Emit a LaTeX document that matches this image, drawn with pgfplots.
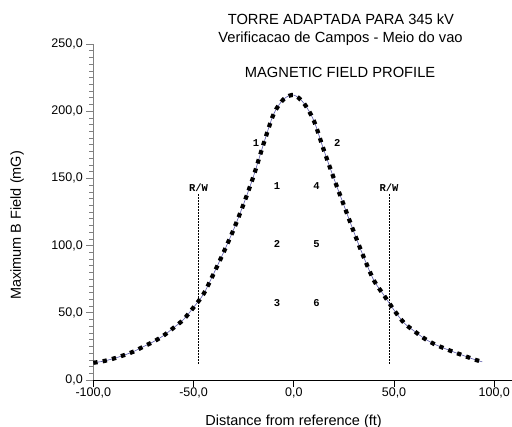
\documentclass[border=0pt]{standalone}
\usepackage{pgfplots}
\pgfplotsset{compat=1.18}
\usepackage{fontspec}
\setmainfont{Liberation Sans}
\newfontfamily\pixfont{Liberation Mono}
\definecolor{curveblue}{RGB}{90,90,170}
\begin{document}
\begin{tikzpicture}
\useasboundingbox (0pt,0pt) rectangle (512pt,427pt);
\begin{axis}[
  at={(93.3pt,47pt)}, anchor=south west,
  scale only axis,
  width=419pt, height=336pt,
  xmin=-100, xmax=109,
  ymin=0, ymax=250,
  clip=false,
  axis lines*=left,
  x axis line style={black, line width=0.8pt},
  y axis line style={gray, line width=0.8pt},
  xtick={-100,-50,0,50,100},
  ytick={0,50,...,250},
  minor y tick num=9,
  tick align=outside,
  major tick length=7pt,
  minor tick length=4pt,
  x tick style={black, line width=0.6pt},
  y tick style={gray, line width=0.6pt},
  ticklabel style={font=\fontsize{12.5}{14}\selectfont},
  xticklabel style={yshift=3pt},
  /pgf/number format/.cd, fixed, fixed zerofill, precision=1, use comma,
    assume math mode=true,
  /pgfplots/.cd,
  xlabel={Distance from reference (ft)},
  ylabel={Maximum B Field (mG)},
  label style={font=\fontsize{14.5}{17}\selectfont},
  xlabel style={at={(axis description cs:0.478,-0.124)}, anchor=center},
  ylabel style={at={(axis description cs:-0.182,0.46)}, anchor=center},
]
% R/W lines
\addplot[black, line width=0.8pt, dash pattern=on 2pt off 1pt] coordinates {(-47.5,12) (-47.5,139)};
\addplot[black, line width=0.8pt, dash pattern=on 2pt off 1pt] coordinates {(47.5,12) (47.5,139)};
% field profile
\addplot[curveblue, line width=0.6pt, smooth] table {
x y
-100 12.8
-95 14
-90 15.9
-85 18.3
-80 21.1
-75 24.8
-70 28.5
-65 33
-60 38.8
-55 45
-50 54
-45 64
-40 79
-35 95
-30 112
-25 131
-20 152
-15 176
-10 198
-5 209
0 212
5 206
10 193
15 171
20 150
25 130
30 110
35 91
40 74
45 63
50 52
55 42.5
60 36.5
65 31
70 26.8
75 23.6
80 20.7
85 18
90 15.3
94 13.5
};
\addplot[black, line width=4.2pt, dash pattern=on 4.3pt off 5.2pt, smooth] table {
x y
-100 12.8
-95 14
-90 15.9
-85 18.3
-80 21.1
-75 24.8
-70 28.5
-65 33
-60 38.8
-55 45
-50 54
-45 64
-40 79
-35 95
-30 112
-25 131
-20 152
-15 176
-10 198
-5 209
0 212
5 206
10 193
15 171
20 150
25 130
30 110
35 91
40 74
45 63
50 52
55 42.5
60 36.5
65 31
70 26.8
75 23.6
80 20.7
85 18
90 15.3
94 13.5
};
\node[font=\pixfont\bfseries\fontsize{10.5}{10}\selectfont] at (axis cs:-47.5,143) {R/W};
\node[font=\pixfont\bfseries\fontsize{10.5}{10}\selectfont] at (axis cs:47.5,143) {R/W};
\begin{scope}[every node/.style={font=\pixfont\bfseries\fontsize{10.5}{10}\selectfont}]
\node at (axis cs:-18.8,176) {1};
\node at (axis cs:21.7,176) {2};
\node at (axis cs:-8.3,144.6) {1};
\node at (axis cs:11.3,144.6) {4};
\node at (axis cs:-8.3,101.2) {2};
\node at (axis cs:11.3,101.2) {5};
\node at (axis cs:-8.3,57.5) {3};
\node at (axis cs:11.3,57.5) {6};
\end{scope}
\begin{scope}[every node/.style={font=\fontsize{14.7}{17}\selectfont}]
\node at (axis description cs:0.591,1.074) {TORRE ADAPTADA PARA 345 kV};
\node at (axis description cs:0.590,1.015) {Verificacao de Campos - Meio do vao};
\node at (axis description cs:0.589,0.914) {MAGNETIC FIELD PROFILE};
\end{scope}
\end{axis}
\end{tikzpicture}
\end{document}
